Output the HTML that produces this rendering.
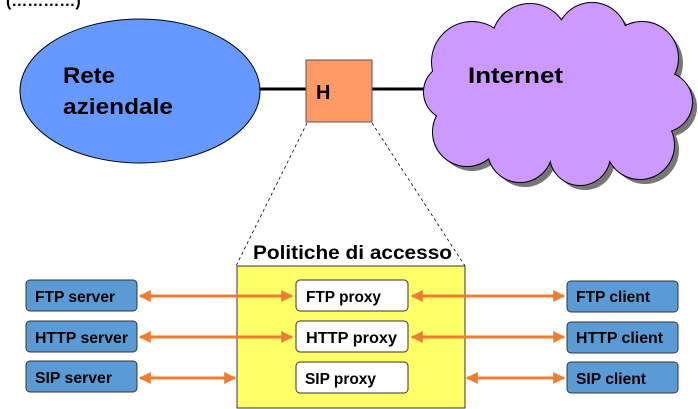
<!DOCTYPE html>
<html><head><style>
body{margin:0;background:#fff;}
svg{display:block;font-family:"Liberation Sans",sans-serif;font-weight:bold;}
</style></head><body>
<svg width="698" height="409" viewBox="0 0 698 409" xmlns="http://www.w3.org/2000/svg">
<defs>
<marker id="ah" viewBox="0 0 10 10" refX="9" refY="5" markerWidth="4" markerHeight="4" orient="auto-start-reverse"><path d="M0,0L10,5L0,10z" fill="#ed7d31"/></marker>
<g id="cl">
<circle cx="472" cy="62" r="40"/><circle cx="530" cy="42" r="38"/><circle cx="592" cy="38" r="35"/><circle cx="642" cy="58" r="36"/><circle cx="662" cy="102" r="30"/><circle cx="640" cy="145" r="34"/><circle cx="580" cy="155" r="30"/><circle cx="520" cy="150" r="32"/><circle cx="467" cy="132" r="34"/><circle cx="452" cy="92" r="28"/><circle cx="550" cy="95" r="60"/><circle cx="610" cy="95" r="55"/><circle cx="492" cy="100" r="22"/>
</g>
</defs>
<text x="6" y="6" font-size="16">(…………)</text>
<ellipse cx="140" cy="91" rx="120" ry="72" fill="#6699ff" stroke="#000" stroke-width="1"/>
<text x="63" y="83" font-size="22" textLength="52" lengthAdjust="spacingAndGlyphs">Rete</text>
<text x="63" y="114" font-size="22" textLength="110" lengthAdjust="spacingAndGlyphs">aziendale</text>
<line x1="260" y1="89" x2="306" y2="89" stroke="#000" stroke-width="3"/>
<line x1="372" y1="89" x2="428" y2="89" stroke="#000" stroke-width="3"/>
<g fill="#777" transform="translate(5,5)"><use href="#cl"/></g>
<g fill="#cc99ff" stroke="#000" stroke-width="2"><use href="#cl"/></g>
<g fill="#cc99ff"><use href="#cl"/></g>
<text x="468" y="83" font-size="22" textLength="95" lengthAdjust="spacingAndGlyphs">Internet</text>
<rect x="306" y="60" width="66" height="62" fill="#ff9966" stroke="#555"/>
<text x="316" y="99" font-size="20">H</text>
<line x1="307" y1="123" x2="236" y2="266" stroke="#000" stroke-dasharray="3,3" stroke-width="0.8"/>
<line x1="372" y1="123" x2="465" y2="266" stroke="#000" stroke-dasharray="3,3" stroke-width="0.8"/>
<text x="253" y="259" font-size="19" textLength="199" lengthAdjust="spacingAndGlyphs">Politiche di accesso</text>
<rect x="237" y="266" width="228" height="142" fill="#ffff66" stroke="#333"/>
<g fill="#5b9bd5" stroke="#333" stroke-width="1">
<rect x="26" y="280" width="111" height="31" rx="4"/><rect x="26" y="321" width="111" height="31" rx="4"/><rect x="26" y="361" width="111" height="31" rx="4"/>
<rect x="567" y="281" width="111" height="31" rx="4"/><rect x="567" y="322" width="111" height="31" rx="4"/><rect x="567" y="362" width="111" height="31" rx="4"/>
</g>
<g fill="#fff" stroke="#333" stroke-width="1">
<rect x="296" y="280" width="112" height="31" rx="4"/><rect x="296" y="321" width="112" height="31" rx="4"/><rect x="296" y="362" width="112" height="31" rx="4"/>
</g>
<g stroke="#ed7d31" stroke-width="3" marker-start="url(#ah)" marker-end="url(#ah)">
<line x1="140" y1="296" x2="292" y2="296"/><line x1="412" y1="296" x2="564" y2="296"/>
<line x1="140" y1="337" x2="292" y2="337"/><line x1="412" y1="337" x2="564" y2="337"/>
<line x1="140" y1="378" x2="235" y2="378"/><line x1="467" y1="378" x2="564" y2="378"/>
</g>
<g font-size="16" fill="#000">
<text x="35" y="302" textLength="80" lengthAdjust="spacingAndGlyphs">FTP server</text><text x="35" y="343" textLength="93" lengthAdjust="spacingAndGlyphs">HTTP server</text><text x="35" y="383" textLength="77" lengthAdjust="spacingAndGlyphs">SIP server</text>
<text x="576" y="302" textLength="74" lengthAdjust="spacingAndGlyphs">FTP client</text><text x="576" y="343" textLength="87" lengthAdjust="spacingAndGlyphs">HTTP client</text><text x="576" y="384" textLength="70" lengthAdjust="spacingAndGlyphs">SIP client</text>
<text x="306" y="302" textLength="75" lengthAdjust="spacingAndGlyphs">FTP proxy</text><text x="306" y="343" textLength="91" lengthAdjust="spacingAndGlyphs">HTTP proxy</text><text x="305" y="384" textLength="71" lengthAdjust="spacingAndGlyphs">SIP proxy</text>
</g>
</svg>
</body></html>
